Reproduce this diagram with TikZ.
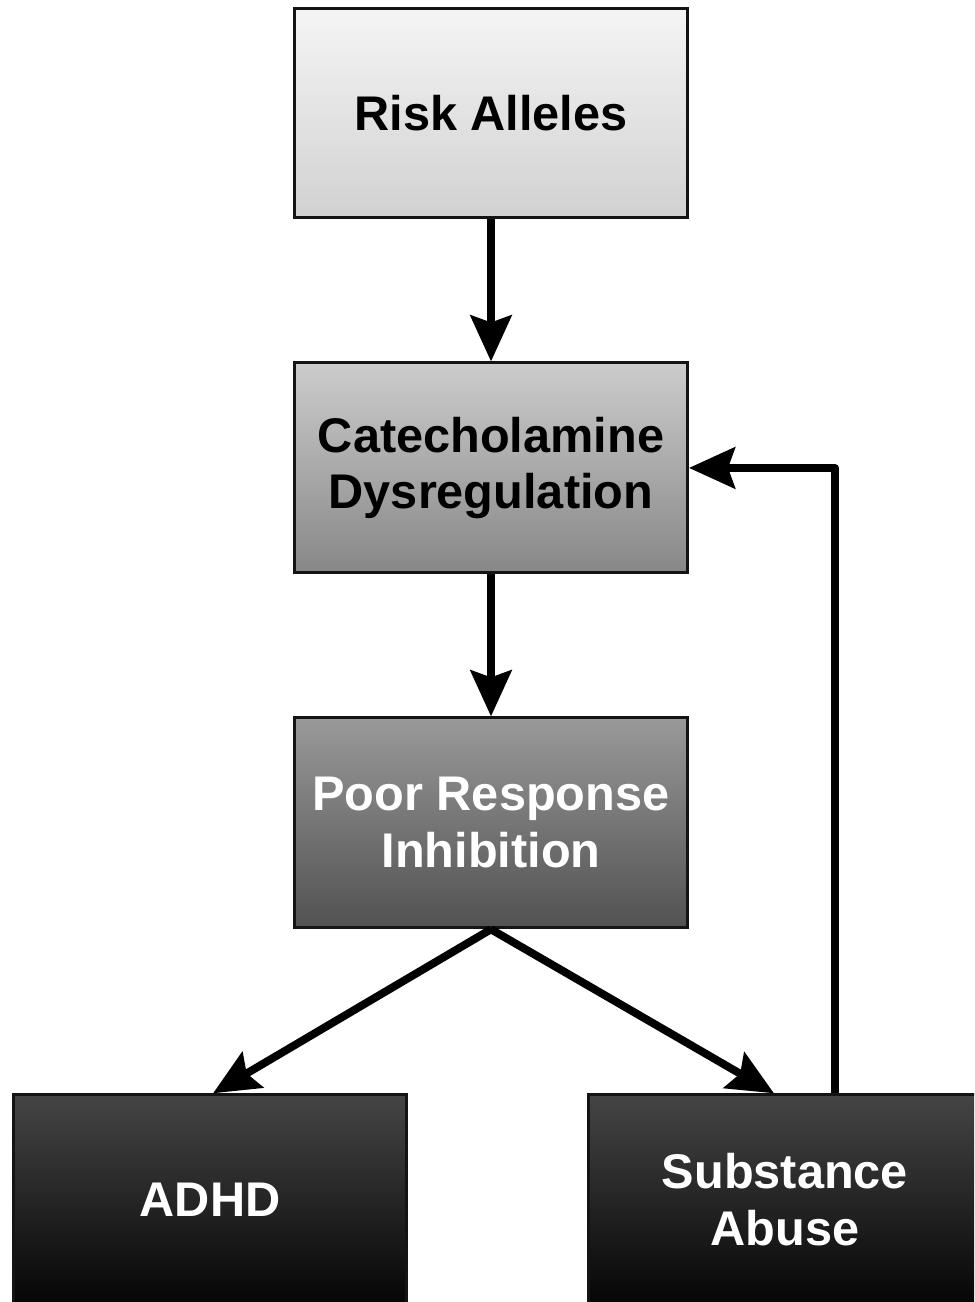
\documentclass[tikz,border=0pt]{standalone}
\usepackage{fontspec}
\setmainfont{Liberation Sans}
\usetikzlibrary{arrows.meta, positioning}

\begin{document}
\begin{tikzpicture}[x=0.02cm, y=-0.02cm, node distance=2.84cm,
    >={Stealth[length=9.2mm, width=8.2mm, inset=1.4mm]}]
    \tikzstyle{box}=[rectangle, draw=black!92, line width=1.7pt, minimum width=7.86cm, minimum height=4.2cm, inner sep=0pt, align=center, font=\fontsize{27.7}{32.3}\selectfont\bfseries]
    \tikzstyle{pale box}=[box, top color=black!4, bottom color=black!18]
    \tikzstyle{grey box}=[box, top color=black!20, bottom color=black!47]
    \tikzstyle{dark box}=[box, top color=black!40, bottom color=black!68, text=white]
    \tikzstyle{black box}=[box, top color=black!73, bottom color=black!98, text=white]
    \tikzstyle{link}=[->, line width=4.5pt, line join=round]

    % page frame, the bottom boxes run off it
    \clip (0,0) rectangle (974,1302);

    % Draw the chain of boxes
    \node[pale box] (risk) at (491,113) {Risk Alleles};
    \node[grey box, below=of risk] (cat) {Catecholamine\\Dysregulation};
    \node[dark box, below=of cat] (poor) {Poor Response\\Inhibition};

    % Draw the two outcomes
    \node[black box, below=3.28cm of poor, xshift=-5.62cm] (adhd) {ADHD};
    \node[black box, below=3.28cm of poor, xshift=5.88cm] (sub) {Substance\\Abuse};

    % Connect the boxes
    \draw[link] (risk) -- (cat);
    \draw[link] (cat) -- (poor);
    \draw[link] (poor.south) -- ([xshift=0.6mm]adhd.north);
    \draw[link] (poor.south) -- ([xshift=-2.2mm]sub.north);

    % feedback from substance abuse
    \draw[link] ([xshift=10mm]sub.north) |- (cat.east);
\end{tikzpicture}
\end{document}
